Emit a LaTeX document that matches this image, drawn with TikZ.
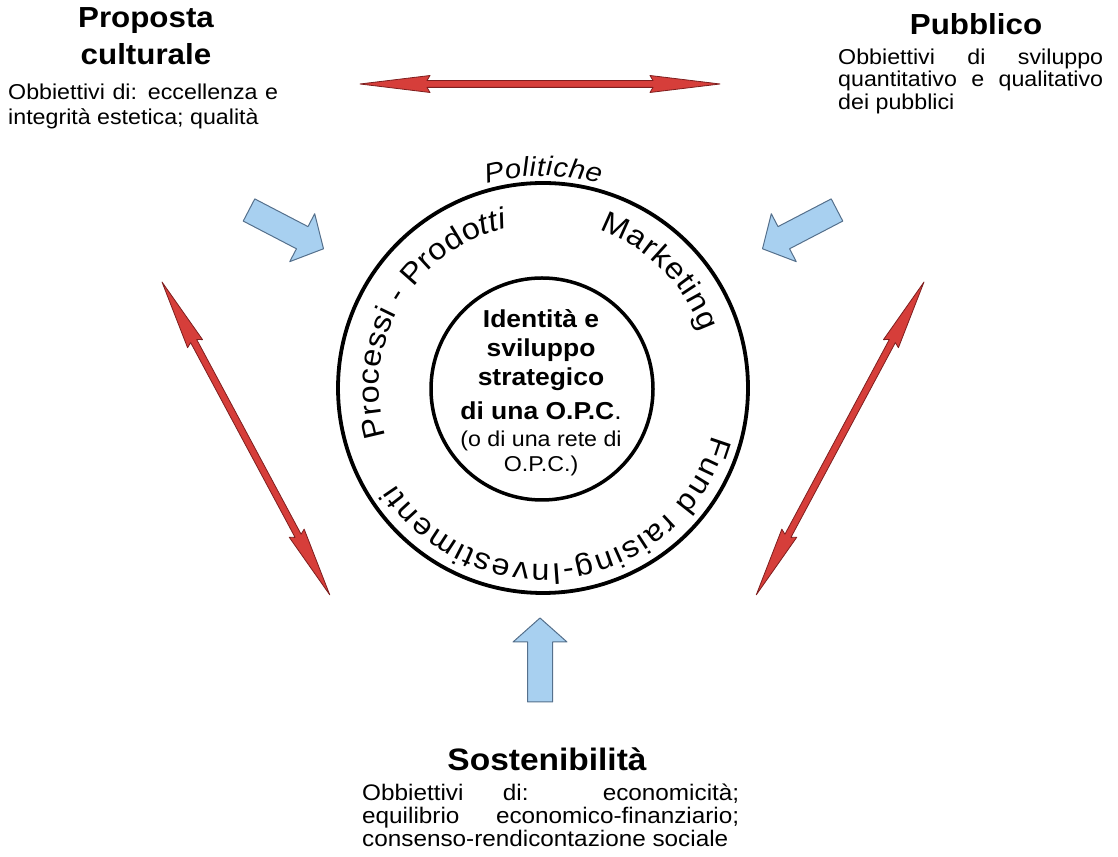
\documentclass[tikz,border=0pt]{standalone}
\usepackage{fontspec}
\setmainfont{Liberation Sans}[FakeStretch=1.08]
\usetikzlibrary{decorations.text}
\definecolor{redfill}{RGB}{214,62,58}
\definecolor{reddraw}{RGB}{125,30,30}
\definecolor{bluefill}{RGB}{168,208,240}
\definecolor{bluedraw}{RGB}{85,112,140}
\newcommand{\curvfont}{\fontsize{30}{30}\selectfont}
\newcommand{\polfont}{\fontsize{27}{27}\selectfont}
\tikzset{
  redarrow/.pic={
    \draw[fill=redfill, draw=reddraw, line width=0.8pt, line join=round]
      (0,0) -- (70,8.5) -- (67,3.4) -- (#1-67,3.4) -- (#1-70,8.5) -- (#1,0)
      -- (#1-70,-8.5) -- (#1-67,-3.4) -- (67,-3.4) -- (70,-8.5) -- cycle;
  },
  bluearrow/.pic={
    \draw[fill=bluefill, draw=bluedraw, line width=1pt, line join=round]
      (0,-12.5) -- (60,-12.5) -- (60,-27) -- (84,0) -- (60,27) -- (60,12.5) -- (0,12.5) -- cycle;
  },
  ring/.style={draw=black, line width=3.8pt},
  head/.style={font=\fontsize{29}{29}\selectfont\bfseries, inner sep=0pt, anchor=base},
  body/.style={font=\fontsize{21.5}{24}\selectfont, inner sep=0pt, anchor=base west},
  core/.style={font=\fontsize{24.5}{28}\selectfont\bfseries, inner sep=0pt, anchor=base},
  coresmall/.style={font=\fontsize{21.5}{24}\selectfont, inner sep=0pt, anchor=base},
}
\begin{document}
\begin{tikzpicture}[x=1pt,y=1pt]
\useasboundingbox (0,0) rectangle (1118,856);
\coordinate (C) at (543,468);

% circles
\draw[ring] (C) circle[radius=205];
\draw[ring, line width=3.5pt] (542,467) circle[radius=111];

% curved texts
\path[decorate, decoration={text along path, text align=fit to path,
  text={|\polfont\itshape|Politiche}}]
  (C) ++(105.4:212) arc[start angle=105.4, end angle=74.3, radius=212];
\path[decorate, decoration={text along path, text align=fit to path,
  text={|\curvfont|Processi - Prodo|\curvfont\itshape|tti}}]
  (C) ++(197:164) arc[start angle=197, end angle=102.5, radius=164];
\path[decorate, decoration={text along path, text align=fit to path,
  text={|\curvfont|Marketing}}]
  (C) ++(70.5:168) arc[start angle=70.5, end angle=19.5, radius=168];
\path[decorate, decoration={text along path, text align=fit to path,
  text={|\curvfont|Fund raising-Investimenti}}]
  (C) ++(-15.5:176) arc[start angle=-15.5, end angle=-146.8, radius=176];

% core text
\node[core] (c1) at (541,528) {Identità e};
\node[core] (c2) at (541,499) {sviluppo};
\node[core] (c3) at (541,470) {strategico};
\node[core] (c4) at (541,436) {di una O.P.C\textmd{.}};
\node[coresmall] (c5) at (541,409) {(o di una rete di};
\node[coresmall] (c6) at (541,384) {O.P.C.)};

% Proposta culturale
\node[head] (p1) at (146,828) {Proposta};
\node[head] (p2) at (146,791) {culturale};
\node[body] (p3) at (8,756) {\makebox[270pt][s]{Obbiettivi di: eccellenza e}};
\node[body] (p4) at (8,731) {integrità estetica; qualità};

% Pubblico
\node[head] (u1) at (976,821) {Pubblico};
\node[body] (u2) at (838,791) {\makebox[265pt][s]{Obbiettivi di sviluppo}};
\node[body] (u3) at (838,769) {\makebox[265pt][s]{quantitativo e qualitativo}};
\node[body] (u4) at (838,746) {dei pubblici};

% Sostenibilita
\node[head, font=\fontsize{31}{31}\selectfont\bfseries] (s1) at (547,85) {Sostenibilità};
\node[body, font=\fontsize{22.5}{24}\selectfont] (s2) at (362,55) {\makebox[377pt][s]{Obbiettivi di: economicità;}};
\node[body, font=\fontsize{22.5}{24}\selectfont] (s3) at (362,33) {\makebox[377pt][s]{equilibrio economico-finanziario;}};
\node[body, font=\fontsize{22.5}{24}\selectfont] (s4) at (362,10) {consenso-rendicontazione sociale};

% red double arrows
\pic at (360,772) {redarrow=360};
\pic[rotate=-61.8] at (162,574) {redarrow=355};
\pic[rotate=-118.2] at (924,574) {redarrow=355};

% blue block arrows
\pic[rotate=-27.5] at (249,646) {bluearrow};
\pic[rotate=207.5] at (837,646) {bluearrow};
\pic[rotate=90] at (540,154) {bluearrow};
\end{tikzpicture}
\end{document}
